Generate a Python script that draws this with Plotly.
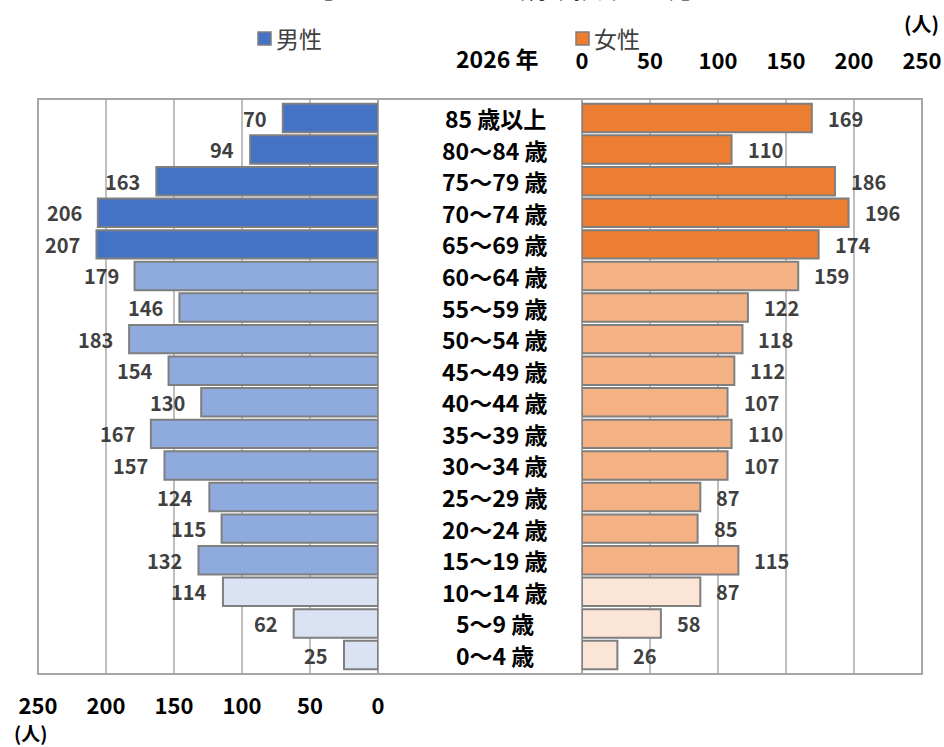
import plotly.graph_objects as go

# 年齢階級（上から下へ）
age_groups = ["85 歳以上", "80～84 歳", "75～79 歳", "70～74 歳", "65～69 歳",
              "60～64 歳", "55～59 歳", "50～54 歳", "45～49 歳", "40～44 歳",
              "35～39 歳", "30～34 歳", "25～29 歳", "20～24 歳", "15～19 歳",
              "10～14 歳", "5～9 歳", "0～4 歳"]
male = [70, 94, 163, 206, 207, 179, 146, 183, 154, 130, 167, 157, 124, 115, 132, 114, 62, 25]
female = [169, 110, 186, 196, 174, 159, 122, 118, 112, 107, 110, 107, 87, 85, 115, 87, 58, 26]
tick_values = [0, 50, 100, 150, 200, 250]
tick_labels = ["0", "50", "100", "150", "200", "250"]

# 年齢区分ごとの色（65歳以上 / 15～64歳 / 0～14歳）
def band_colors(dark, mid, light):
    cols = []
    for g in age_groups:
        lo = int(g.split("～")[0].split(" ")[0])
        cols.append(dark if lo >= 65 else (mid if lo >= 15 else light))
    return cols

male_colors = band_colors("#4472C4", "#8FAADC", "#DAE3F3")
female_colors = band_colors("#ED7D31", "#F4B183", "#FBE5D6")

W, H = 944, 747
L, R, T, B = 38, 22, 99, 73
PW, PH = W - L - R, H - T - B


def px_x(p):
    return (p - L) / PW


def px_y(p):
    return (H - B - p) / PH


FONT = "Noto Sans CJK JP"
GRID = "#BFBFBF"
EDGE = "#7F7F7F"

fig = go.Figure()
fig.add_trace(go.Bar(y=age_groups, x=male, orientation="h", xaxis="x", yaxis="y",
                     marker=dict(color=male_colors, line=dict(color=EDGE, width=2)),
                     showlegend=False, hoverinfo="x+y"))
fig.add_trace(go.Bar(y=age_groups, x=female, orientation="h", xaxis="x2", yaxis="y",
                     marker=dict(color=female_colors, line=dict(color=EDGE, width=2)),
                     showlegend=False, hoverinfo="x+y"))

left_end = px_x(378)
right_start = px_x(582)

tick_font = dict(family=FONT, size=22, color="#000000", weight="bold")

fig.update_layout(
    width=W, height=H,
    margin=dict(l=L, r=R, t=T, b=B, autoexpand=False),
    paper_bgcolor="white", plot_bgcolor="white",
    bargap=0.1,
    xaxis=dict(domain=[0, left_end], range=[250, 0], tickvals=tick_values, ticktext=tick_labels,
               showgrid=True, gridcolor=GRID, gridwidth=1.5, zeroline=False, showline=False,
               side="bottom", ticks="", tickfont=tick_font, ticklabelstandoff=17,
               automargin=False, fixedrange=True),
    xaxis2=dict(domain=[right_start, 1], range=[0, 250], tickvals=tick_values, ticktext=tick_labels,
                showgrid=True, gridcolor=GRID, gridwidth=1.5, zeroline=False, showline=False,
                side="top", anchor="y", ticks="", tickfont=tick_font, ticklabelstandoff=25,
                automargin=False, fixedrange=True),
    yaxis=dict(categoryorder="array", categoryarray=age_groups[::-1], showticklabels=False,
               showgrid=False, zeroline=False, showline=False, ticks="", automargin=False,
               fixedrange=True),
)

shapes = [
    # 外枠
    dict(type="rect", xref="paper", yref="paper", x0=0, x1=1, y0=0, y1=1,
         line=dict(color="#A6A6A6", width=2), layer="above"),
    # 中央の境界線
    dict(type="line", xref="paper", yref="paper", x0=left_end, x1=left_end, y0=0, y1=1,
         line=dict(color="#A6A6A6", width=2), layer="below"),
    dict(type="line", xref="paper", yref="paper", x0=right_start, x1=right_start, y0=0, y1=1,
         line=dict(color="#A6A6A6", width=2), layer="below"),
    # 凡例の色見本
    dict(type="rect", xref="paper", yref="paper", x0=px_x(258), x1=px_x(271),
         y0=px_y(45), y1=px_y(32), fillcolor="#4472C4", line=dict(color=EDGE, width=1.5)),
    dict(type="rect", xref="paper", yref="paper", x0=px_x(576), x1=px_x(589),
         y0=px_y(45), y1=px_y(32), fillcolor="#ED7D31", line=dict(color=EDGE, width=1.5)),
]

annotations = []
label_font = dict(family=FONT, size=20, color="#404040", weight="bold")
for g, m, f in zip(age_groups, male, female):
    annotations.append(dict(x=m, y=g, xref="x", yref="y", text=str(m), showarrow=False,
                            xanchor="right", yanchor="middle", xshift=-14, font=label_font))
    annotations.append(dict(x=f, y=g, xref="x2", yref="y", text=str(f), showarrow=False,
                            xanchor="left", yanchor="middle", xshift=14, font=label_font))
    annotations.append(dict(x=px_x(495), y=g, xref="paper", yref="y", text=g, showarrow=False,
                            xanchor="center", yanchor="middle",
                            font=dict(family=FONT, size=23, color="#000000", weight="bold")))

annotations += [
    dict(x=px_x(507), y=px_y(7), xref="paper", yref="paper", yanchor="bottom",
         text="【人口ピラミッド（将来推計人口）】", showarrow=False,
         font=dict(family=FONT, size=24, color="#000000")),
    dict(x=px_x(274), y=px_y(38), xref="paper", yref="paper", xanchor="left", yanchor="middle",
         text="男性", showarrow=False, font=dict(family=FONT, size=23, color="#404040")),
    dict(x=px_x(592), y=px_y(38), xref="paper", yref="paper", xanchor="left", yanchor="middle",
         text="女性", showarrow=False, font=dict(family=FONT, size=23, color="#404040")),
    dict(x=px_x(497), y=px_y(58), xref="paper", yref="paper", xanchor="center", yanchor="middle",
         text="2026 年", showarrow=False, font=dict(family=FONT, size=23, color="#000000",
                                                    weight="bold")),
    dict(x=px_x(921), y=px_y(23), xref="paper", yref="paper", xanchor="center", yanchor="middle",
         text="(人)", showarrow=False, font=dict(family=FONT, size=20, color="#000000",
                                                weight="bold")),
    dict(x=px_x(30), y=px_y(732), xref="paper", yref="paper", xanchor="center", yanchor="middle",
         text="(人)", showarrow=False, font=dict(family=FONT, size=19, color="#000000",
                                                weight="bold")),
]

fig.update_layout(shapes=shapes, annotations=annotations)
fig.write_html("out.html")
